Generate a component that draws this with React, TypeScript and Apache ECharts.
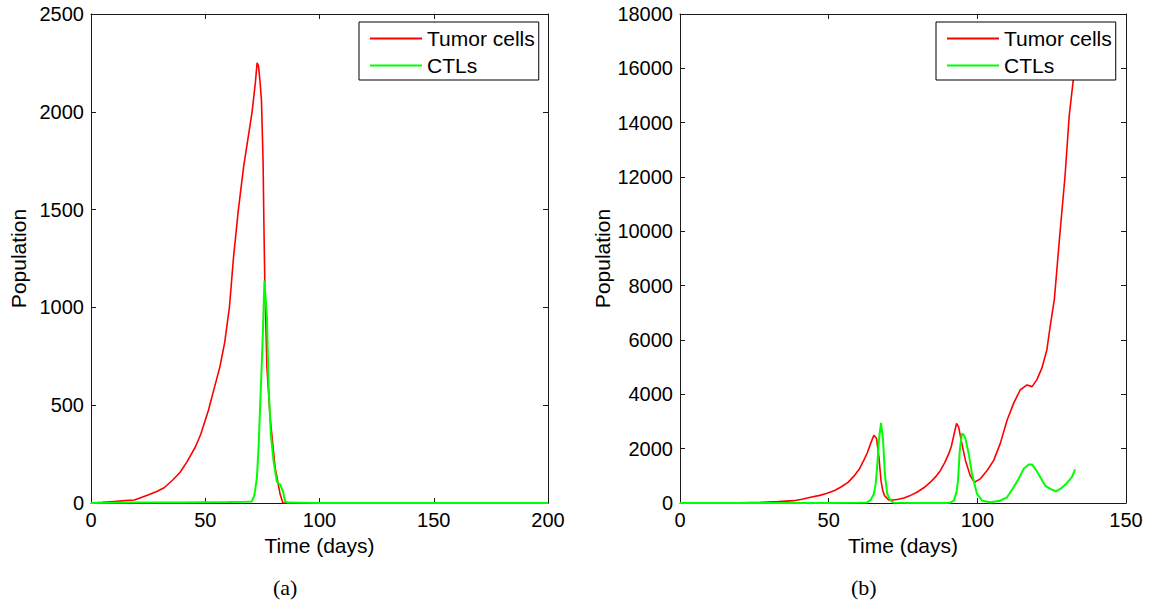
import React, { useEffect, useRef } from "react";
import * as echarts from "echarts";

// Panel (a)
const tumorA_t = [0, 5, 10, 15, 19, 22, 25.5, 29, 32, 36, 39, 42, 45.6, 48, 51.4, 54, 56.4, 58.5, 60.6, 62.4, 64.5, 66.8, 68.8, 70.5, 71.9, 72.7, 73.3, 74.0, 74.6, 75.3, 75.7, 76.1, 77, 78.4, 80.6, 82.8, 84, 90, 100, 150, 200];
const tumorA_v = [0, 3, 8, 12, 15, 28, 43, 60, 78, 120, 157, 210, 285, 350, 474, 590, 696, 820, 1003, 1260, 1500, 1720, 1871, 2000, 2145, 2250, 2235, 2150, 2060, 1750, 1400, 1100, 692, 436, 179, 43, 0, 0, 0, 0, 0];
const ctlA_t = [0, 20, 40, 60, 68, 70.4, 71.5, 72.6, 73.4, 74.1, 74.7, 75.2, 75.9, 76.4, 77, 77.7, 78.7, 79.9, 81.3, 82, 82.8, 84, 85, 86, 100, 150, 200];
const ctlA_v = [0, 2, 3, 5, 6, 8, 40, 128, 300, 521, 700, 863, 1137, 1050, 949, 607, 350, 214, 111, 100, 94, 60, 8, 2, 0, 0, 0];

// Panel (b)
const tumorB_t = [0, 10, 20, 27.1, 33, 38.3, 41, 43.9, 47, 49.5, 52, 54, 56.5, 58.5, 60.3, 61.8, 63, 64.1, 65.2, 66.1, 66.9, 67.6, 68.2, 68.8, 70.2, 71.9, 73.5, 75.3, 77.5, 79.7, 82, 84.2, 86, 87.6, 89, 90.4, 91.3, 92.1, 93, 93.7, 94.8, 96, 97.6, 99, 101, 103.3, 105.5, 107.7, 110, 112.2, 114.4, 116.7, 118.4, 120, 121.7, 123.4, 124.5, 125.9, 127.8, 129.5, 130.9, 132.3, 133];
const tumorB_v = [0, 3, 10, 25, 50, 86, 140, 210, 280, 358, 460, 580, 760, 988, 1250, 1568, 1850, 2185, 2494, 2370, 1690, 827, 450, 272, 111, 111, 140, 185, 280, 395, 560, 765, 970, 1198, 1480, 1815, 2100, 2494, 2926, 2802, 2185, 1568, 1012, 765, 889, 1198, 1568, 2185, 3049, 3667, 4160, 4346, 4284, 4531, 4963, 5642, 6506, 7494, 9947, 12036, 14250, 15603, 16300];
const ctlB_t = [0, 30, 50, 60, 62.9, 64.2, 65.2, 65.8, 66.3, 66.9, 67.6, 68.3, 68.9, 69.7, 70.8, 71.9, 80, 89.8, 91, 92.1, 93, 93.5, 94.1, 94.8, 95.5, 96, 97.1, 98.2, 99.9, 101.6, 104.4, 107.7, 110, 112.2, 113.9, 115.6, 117.3, 118.4, 119.5, 121.2, 122.8, 124.5, 126.4, 127.9, 130.1, 131.8, 132.9];
const ctlB_v = [0, 0, 2, 5, 20, 120, 333, 700, 1321, 2309, 2950, 2309, 1074, 333, 86, 10, 0, 0, 20, 86, 400, 827, 1938, 2556, 2500, 2370, 1815, 1074, 333, 86, 25, 86, 210, 580, 889, 1259, 1420, 1420, 1259, 951, 642, 519, 432, 519, 728, 951, 1235];

const seriesNames = ["Tumor cells", "CTLs"];
const captions = ["(a)", "(b)"];
const xRanges = [[0, 200, 50], [0, 150, 50]];
const yRanges = [[0, 2500, 500], [0, 18000, 2000]];

const FONT = "'Liberation Sans', Arial, sans-serif";
const AX = "#1a1a1a";

const zip = (t: number[], v: number[]) => t.map((x, i) => [x, v[i]]);

export default function App() {
  const ref = useRef<HTMLDivElement>(null);
  useEffect(() => {
    document.body.style.margin = "0";
    const chart = echarts.init(ref.current!, undefined, { renderer: "svg" });
    const grids = [
      { left: 91, top: 14, width: 457, height: 489 },
      { left: 680, top: 14, width: 446, height: 489 },
    ];
    const xAxis: any[] = [];
    const yAxis: any[] = [];
    const fmt = (v: number) => String(v);
    [0, 1].forEach((g) => {
      const [xmin, xmax, xint] = xRanges[g];
      const [ymin, ymax, yint] = yRanges[g];
      const base = {
        type: "value",
        gridIndex: g,
        splitLine: { show: false },
        axisLine: { show: true, onZero: false, lineStyle: { color: AX, width: 1 } },
        axisTick: { show: true, inside: true, length: 5, lineStyle: { color: AX } },
      };
      xAxis.push({
        ...base, min: xmin, max: xmax, interval: xint, position: "bottom",
        name: "Time (days)", nameLocation: "middle", nameGap: 27,
        nameTextStyle: { fontSize: 21, color: "#000", fontFamily: FONT },
        axisLabel: { fontSize: 20, color: "#000", fontFamily: FONT, margin: 7, formatter: fmt },
      });
      xAxis.push({
        ...base, min: xmin, max: xmax, interval: xint, position: "top",
        axisLabel: { show: false },
      });
      yAxis.push({
        ...base, min: ymin, max: ymax, interval: yint, position: "left",
        name: "Population", nameLocation: "middle", nameGap: 62,
        nameTextStyle: { fontSize: 21, color: "#000", fontFamily: FONT },
        axisLabel: { fontSize: 20, color: "#000", fontFamily: FONT, margin: 7, formatter: fmt },
      });
      yAxis.push({
        ...base, min: ymin, max: ymax, interval: yint, position: "right",
        axisLabel: { show: false },
      });
    });
    const mk = (name: string, data: number[][], g: number, color: string, width: number) => ({
      type: "line", name, data, xAxisIndex: g * 2, yAxisIndex: g * 2,
      symbol: "none", showSymbol: false, smooth: false,
      lineStyle: { color, width }, itemStyle: { color },
    });
    const legendBase = {
      orient: "vertical",
      top: 22,
      data: seriesNames.map((n) => ({ name: n, icon: "rect" })),
      backgroundColor: "#fff",
      borderColor: "#000",
      borderWidth: 1,
      borderRadius: 0,
      padding: [6, 4, 4, 11],
      itemGap: 6,
      itemWidth: 52,
      itemHeight: 2,
      itemTextGap: 6,
      textStyle: { fontSize: 21, color: "#000", fontFamily: FONT },
      z: 10,
    };
    chart.setOption({
      animation: false,
      backgroundColor: "#fff",
      grid: grids,
      xAxis,
      yAxis,
      legend: [
        { ...legendBase, left: 359 },
        { ...legendBase, left: 936 },
      ],
      graphic: [
        { type: "text", left: 288 - 15, top: 576, style: { text: captions[0], font: "22px 'Liberation Serif', 'DejaVu Serif', serif", fill: "#000" } },
        { type: "text", left: 866 - 15, top: 576, style: { text: captions[1], font: "22px 'Liberation Serif', 'DejaVu Serif', serif", fill: "#000" } },
      ],
      series: [
        mk(seriesNames[0], zip(tumorA_t, tumorA_v), 0, "#ff0000", 1.6),
        mk(seriesNames[1], zip(ctlA_t, ctlA_v), 0, "#00ff00", 2),
        mk(seriesNames[0], zip(tumorB_t, tumorB_v), 1, "#ff0000", 1.6),
        mk(seriesNames[1], zip(ctlB_t, ctlB_v), 1, "#00ff00", 2),
      ],
    });
    return () => chart.dispose();
  }, []);
  return <div ref={ref} style={{ width: 1153, height: 612 }} />;
}
